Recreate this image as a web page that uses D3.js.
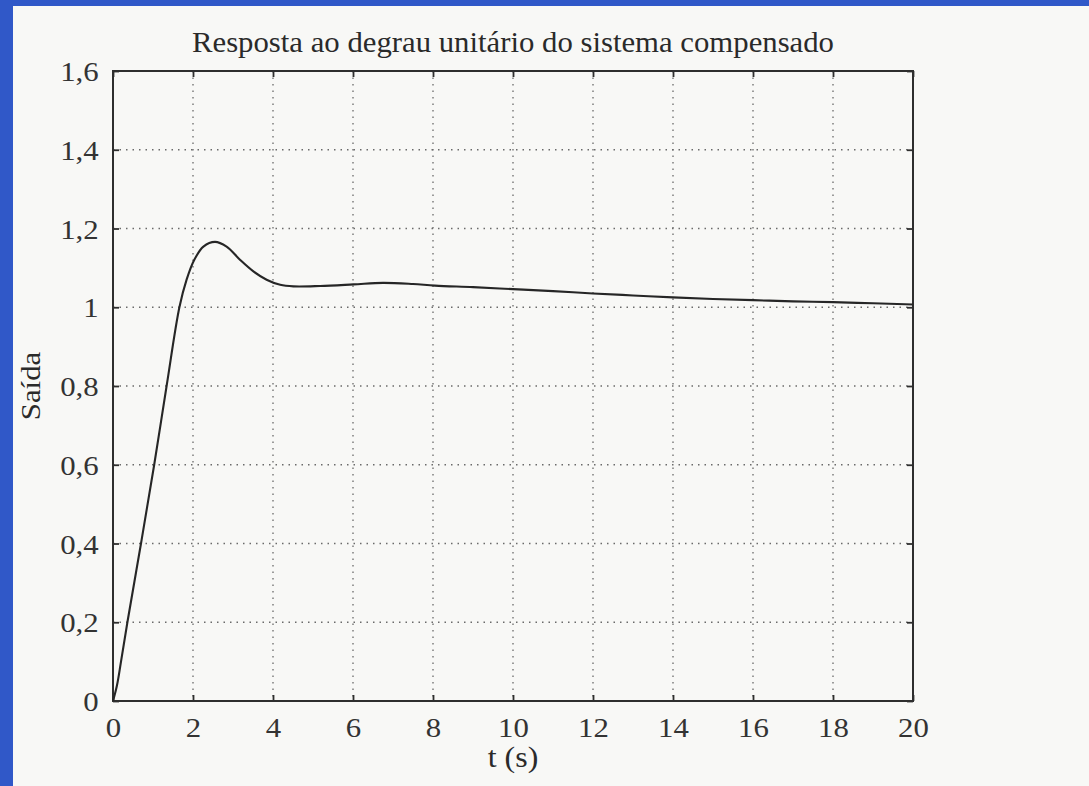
<!DOCTYPE html>
<html>
<head>
<meta charset="utf-8">
<script src="https://cdn.jsdelivr.net/npm/d3@7"></script>
<style>
  html, body { margin: 0; padding: 0; background: #3058c8; }
  svg { display: block; }
</style>
</head>
<body>
<svg id="chart" width="1089" height="786"></svg>
<script>
// Step response of the compensated system (time in seconds, output)
const tSeconds = [0, 0.1, 0.2, 0.36, 0.7, 1.03, 1.34, 1.66, 1.84, 2.03, 2.26, 2.55, 2.84, 3.18, 3.51, 3.84, 4.18, 4.51, 5.18, 6.01, 6.75, 7.5, 8.05, 9, 10, 11, 12, 13, 14, 15, 16, 17, 18, 19, 20];
const response = [0, 0.04, 0.1, 0.2, 0.4, 0.6, 0.8, 1.0, 1.07, 1.12, 1.154, 1.166, 1.154, 1.12, 1.091, 1.07, 1.057, 1.053, 1.054, 1.058, 1.062, 1.059, 1.055, 1.051, 1.046, 1.041, 1.035, 1.030, 1.025, 1.021, 1.018, 1.015, 1.013, 1.010, 1.007];

const xTicks = [0, 2, 4, 6, 8, 10, 12, 14, 16, 18, 20];
const yTicks = [0, 0.2, 0.4, 0.6, 0.8, 1.0, 1.2, 1.4, 1.6];
const yTickLabels = ["0", "0,2", "0,4", "0,6", "0,8", "1", "1,2", "1,4", "1,6"];

const titleText = "Resposta ao degrau unitário do sistema compensado";
const xLabel = "t (s)";
const yLabel = "Saída";

const W = 1089, H = 786;
const frameLeft = 13, frameTop = 6;
const plot = { left: 113, right: 913, top: 71, bottom: 701 };
const stretch = 1.1; // typeset glyphs are slightly wide

const svg = d3.select("#chart");

// Page
svg.append("rect")
  .attr("x", frameLeft).attr("y", frameTop)
  .attr("width", W - frameLeft).attr("height", H - frameTop)
  .attr("fill", "#f8f8f6");

const x = d3.scaleLinear().domain([0, 20]).range([plot.left, plot.right]);
const y = d3.scaleLinear().domain([0, 1.6]).range([plot.bottom, plot.top]);

const ink = "#2e2e2e";
const serif = "'Liberation Serif', 'Times New Roman', serif";

// Dotted grid
const grid = svg.append("g");
grid.selectAll("line.gx")
  .data(xTicks.slice(1, -1))
  .join("line")
  .attr("class", "gx")
  .attr("x1", d => x(d)).attr("x2", d => x(d))
  .attr("y1", plot.top).attr("y2", plot.bottom)
  .attr("stroke", "#6a6a6a").attr("stroke-width", 1.3)
  .attr("stroke-dasharray", "1.5,5");
grid.selectAll("line.gy")
  .data(yTicks.slice(1, -1))
  .join("line")
  .attr("class", "gy")
  .attr("x1", plot.left).attr("x2", plot.right)
  .attr("y1", d => y(d)).attr("y2", d => y(d))
  .attr("stroke", "#6a6a6a").attr("stroke-width", 1.3)
  .attr("stroke-dasharray", "1.5,5");

// Axes with inward ticks on all four sides
const tickLen = 6;
const axisBottom = svg.append("g")
  .attr("transform", `translate(0,${plot.bottom})`)
  .call(d3.axisBottom(x).tickValues(xTicks).tickSizeInner(-tickLen).tickSizeOuter(0).tickPadding(16).tickFormat(d3.format("d")));
const axisTop = svg.append("g")
  .attr("transform", `translate(0,${plot.top})`)
  .call(d3.axisTop(x).tickValues(xTicks).tickSizeInner(-tickLen).tickSizeOuter(0).tickFormat(""));
const axisLeft = svg.append("g")
  .attr("transform", `translate(${plot.left},0)`)
  .call(d3.axisLeft(y).tickValues(yTicks).tickSizeInner(-tickLen).tickSizeOuter(0).tickPadding(13)
    .tickFormat((d, i) => yTickLabels[i]));
const axisRight = svg.append("g")
  .attr("transform", `translate(${plot.right},0)`)
  .call(d3.axisRight(y).tickValues(yTicks).tickSizeInner(-tickLen).tickSizeOuter(0).tickFormat(""));

[axisBottom, axisTop, axisLeft, axisRight].forEach(g => {
  g.select(".domain").remove();
  g.selectAll(".tick line").attr("stroke", ink).attr("stroke-width", 1.8);
  g.selectAll(".tick text")
    .attr("font-family", serif)
    .attr("font-size", 28)
    .attr("fill", "#333");
});
axisLeft.selectAll(".tick text")
  .attr("dy", "0.34em")
  .attr("transform", `scale(${stretch},1)`);
axisBottom.selectAll(".tick text")
  .attr("dy", "0.72em")
  .attr("transform", `scale(${stretch},1)`);

// Plot frame
svg.append("rect")
  .attr("x", plot.left).attr("y", plot.top)
  .attr("width", plot.right - plot.left).attr("height", plot.bottom - plot.top)
  .attr("fill", "none").attr("stroke", ink).attr("stroke-width", 2);

// Response curve
const line = d3.line()
  .x((d, i) => x(tSeconds[i]))
  .y(d => y(d))
  .curve(d3.curveCatmullRom.alpha(0.5));
svg.append("path")
  .datum(response)
  .attr("d", line)
  .attr("fill", "none")
  .attr("stroke", "#262626")
  .attr("stroke-width", 2.1)
  .attr("stroke-linejoin", "round");

// Title and axis labels
svg.append("text")
  .attr("x", (plot.left + plot.right) / 2)
  .attr("y", 52)
  .attr("text-anchor", "middle")
  .attr("font-family", serif)
  .attr("font-size", 29)
  .attr("fill", "#2a2a2a")
  .attr("textLength", 642)
  .attr("lengthAdjust", "spacingAndGlyphs")
  .text(titleText);

svg.append("text")
  .attr("transform", `translate(${(plot.left + plot.right) / 2},767) scale(${stretch},1)`)
  .attr("text-anchor", "middle")
  .attr("font-family", serif)
  .attr("font-size", 29)
  .attr("fill", "#2a2a2a")
  .text(xLabel);

svg.append("text")
  .attr("transform", `translate(40,${(plot.top + plot.bottom) / 2}) rotate(-90) scale(${stretch},1)`)
  .attr("text-anchor", "middle")
  .attr("font-family", serif)
  .attr("font-size", 28)
  .attr("fill", "#2a2a2a")
  .text(yLabel);
</script>
</body>
</html>
